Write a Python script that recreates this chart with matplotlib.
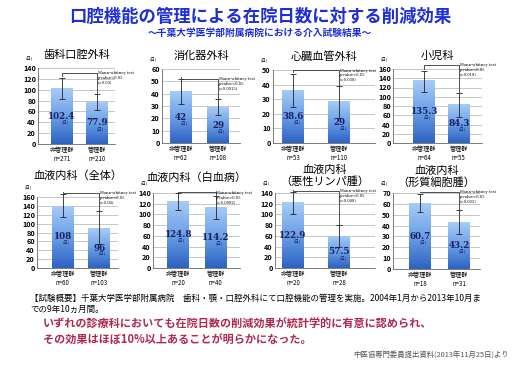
import matplotlib
matplotlib.use("Agg")
import matplotlib.pyplot as plt
import numpy as np
from matplotlib.colors import LinearSegmentedColormap

plt.rcParams['font.family'] = ['Noto Sans CJK JP', 'DejaVu Sans']

# ---------------- data ----------------
titles = ['歯科口腔外科', '消化器外科', '心臓血管外科', '小児科',
          '血液内科（全体）', '血液内科（白血病）', '血液内科\n（悪性リンパ腫）', '血液内科\n（形質細胞腫）']
groups = ['非管理群', '管理群']
bar_heights = [[102.4, 77.9], [42, 29], [36.5, 28.5], [135.3, 84.3],
               [140, 90], [124.8, 114.2], [122.9, 60], [60.7, 43.2]]
bar_labels = [['102.4', '77.9'], ['42', '29'], ['38.6', '29'], ['135.3', '84.3'],
              ['108', '96'], ['124.8', '114.2'], ['122.9', '57.5'], ['60.7', '43.2']]
err_lo = [[82, 63], [32, 23], [25, 17], [110, 56], [116, 53], [108, 91.5], [100, 40], [52.7, 32]]
err_hi = [[122, 93], [52, 36], [47.3, 39], [156, 108], [167.5, 128], [140, 134], [142, 81], [69.4, 54]]
bracket = [131, 52, 50, 169, 170, 141, 144, 71]
n_labels = [['n=271', 'n=210'], ['n=62', 'n=108'], ['n=53', 'n=110'], ['n=64', 'n=55'],
            ['n=60', 'n=103'], ['n=20', 'n=40'], ['n=20', 'n=28'], ['n=18', 'n=31']]
p_values = ['(=0.03)', '(=0.0015)', '(=0.038)', '(=0.018)',
            '(=0.04)', '(=0.0092)', '(=0.048)', '(=0.022)']
y_max = [140, 60, 50, 160, 160, 140, 140, 70]
y_step = [20, 10, 10, 20, 20, 20, 20, 10]

# ---------------- layout (pixels) ----------------
boxes = [(38, 68, 115, 144), (162, 69, 240, 143), (273, 70, 375, 143), (393, 69, 482, 143),
         (37, 197, 118, 268), (153, 193, 240, 268), (275, 193, 375, 268), (393, 193, 480, 269)]
bar_frac = [(0.31, 0.77), (0.24, 0.72), (0.20, 0.65), (0.35, 0.74),
            (0.32, 0.77), (0.29, 0.72), (0.18, 0.64), (0.31, 0.76)]
title_pad = [7, 7, 7, 7, 13, 9, 6, 5]
bar_px = 22

W, H = 520, 368
fig = plt.figure(figsize=(W / 100, H / 100), dpi=100)
fig.patch.set_facecolor('white')

blue = '#1f2fd6'
fig.text(0.5, 1 - 17 / H, '口腔機能の管理による在院日数に対する削減効果', ha='center', va='center',
         fontsize=12.5, fontweight='bold', color=blue)
fig.text(0.5, 1 - 33 / H, '～千葉大学医学部附属病院における介入試験結果～', ha='center', va='center',
         fontsize=7.0, fontweight='bold', color=blue)

cmap = LinearSegmentedColormap.from_list('g', ['#2c62c2', '#6a9fe6', '#a8ccf7'])
grad = np.linspace(0, 1, 256).reshape(-1, 1)
navy = '#1b1f5e'

for i in range(8):
    x0, y0, x1, y1 = boxes[i]
    ax = fig.add_axes([x0 / W, 1 - y1 / H, (x1 - x0) / W, (y1 - y0) / H])
    f1, f2 = bar_frac[i]
    span = 1.0 / (f2 - f1)
    a = -f1 * span
    b = a + span
    bw = bar_px * span / (x1 - x0)
    xs = np.arange(2)
    bars = ax.bar(xs, bar_heights[i], width=bw, color='#7fb0ec', zorder=2, linewidth=0)
    for bb in bars:
        bx, _ = bb.get_xy()
        im = ax.imshow(grad, extent=[bx, bx + bb.get_width(), 0, bb.get_height()],
                       aspect='auto', cmap=cmap, origin='lower', zorder=2.1)
        im.set_clip_path(bb)
    mids = np.array(bar_heights[i])
    lo = mids - np.array(err_lo[i])
    hi = np.array(err_hi[i]) - mids
    ax.errorbar(xs, mids, yerr=[lo, hi], fmt='none', ecolor='#222222', elinewidth=0.6,
                capsize=2.5, capthick=0.6, zorder=3, clip_on=False)
    bk = bracket[i]
    ax.plot([0, 0, 1, 1], [err_hi[i][0] + y_max[i] * 0.02, bk, bk, err_hi[i][1]],
            color='#333333', lw=0.6, zorder=4, clip_on=False)
    ax.text(1.02, bk + y_max[i] * 0.02, 'Mann-whitney test\np-value<0.05\n' + p_values[i],
            fontsize=2.7, family='DejaVu Serif', va='top', ha='left', linespacing=1.2,
            zorder=5, clip_on=False)
    for k in range(2):
        h = bar_heights[i][k]
        ax.text(xs[k], h * 0.5, bar_labels[i][k], ha='center', va='center', fontsize=6.3,
                family='DejaVu Serif', fontweight='bold', color=navy, zorder=5)
        ax.text(xs[k] + 0.08 * span / 2.1, h * 0.5 - y_max[i] * 0.09, '(日)', ha='center',
                va='center', fontsize=3.0, color=navy, zorder=5)
    ax.set_xlim(a, b)
    ax.set_ylim(0, y_max[i])
    ticks = np.arange(0, y_max[i] + 0.1, y_step[i])
    ax.set_yticks(ticks)
    ax.set_yticklabels([str(int(t)) for t in ticks], fontsize=5.2, fontweight='bold')
    ax.yaxis.grid(True, color='#b0b0b0', lw=0.5, zorder=0)
    ax.set_axisbelow(True)
    ax.set_xticks(xs)
    ax.set_xticklabels([groups[k] + '\n' + n_labels[i][k] for k in range(2)], fontsize=4.4,
                       linespacing=1.15)
    ax.tick_params(axis='both', length=0, pad=1.5)
    for s in ['top', 'right']:
        ax.spines[s].set_visible(False)
    for s in ['left', 'bottom']:
        ax.spines[s].set_color('#666666')
        ax.spines[s].set_linewidth(0.6)
    ax.annotate('(日)', xy=(0, 1), xycoords='axes fraction', xytext=(-6, 5),
                textcoords='offset points', fontsize=3.0, ha='center', va='bottom')
    ax.set_title(titles[i], fontsize=8, pad=title_pad[i], linespacing=1.15)

fig.text(30 / W, 1 - 298 / H,
         '【試験概要】千葉大学医学部附属病院　歯科・顎・口腔外科にて口腔機能の管理を実施。2004年1月から2013年10月ま',
         fontsize=6.1, va='center', ha='left')
fig.text(30 / W, 1 - 309 / H, 'での9年10ヵ月間。', fontsize=6.1, va='center', ha='left')
red = '#b1284f'
fig.text(43 / W, 1 - 324 / H, 'いずれの診療科においても在院日数の削減効果が統計学的に有意に認められ、',
         fontsize=8.0, fontweight='bold', color=red, va='center', ha='left')
fig.text(43 / W, 1 - 340 / H, 'その効果はほぼ10%以上あることが明らかになった。',
         fontsize=8.0, fontweight='bold', color=red, va='center', ha='left')
fig.text(509 / W, 1 - 356 / H, '中医協専門委員提出資料(2013年11月25日)より', fontsize=5.3,
         color='#555555', va='center', ha='right')

fig.savefig('out.png', dpi=100, facecolor='white')
